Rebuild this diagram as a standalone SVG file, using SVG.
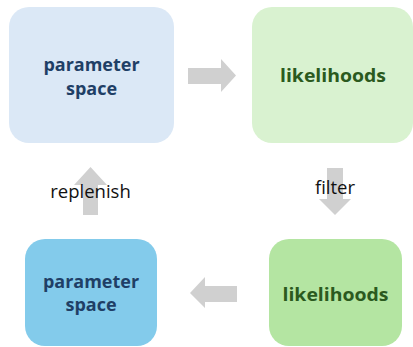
<svg xmlns="http://www.w3.org/2000/svg" width="413" height="347" viewBox="0 0 413 347">
<style>
.node{font-family:"Open Sans","Liberation Sans",sans-serif;font-weight:bold;font-size:18px;text-anchor:middle}
.blue{fill:#1f3f66}
.green{fill:#2b5a1e}
.lbl{font-family:"Open Sans","Liberation Sans",sans-serif;font-size:18.5px;fill:#111;text-anchor:middle}
.arrow{fill:#d0d0d0}
</style>
<rect width="413" height="347" fill="#ffffff"/>
<g id="connectors">
<polygon class="arrow" points="188,68 221,68 221,59 236,75.5 221,92 221,84 188,84"/>
<polygon class="arrow" points="327,168 343,168 343,199 351,199 335,215 319,199 327,199"/>
<polygon class="arrow" points="237,286 205,286 205,277 190,293 205,308 205,302 237,302"/>
<polygon class="arrow" points="83,215 98,215 98,185 107,185 90.5,167 74,185 83,185"/>
<text class="lbl" x="335" y="194">filter</text>
<text class="lbl" x="90.5" y="198">replenish</text>
</g>
<g id="node-param-top">
<rect x="9" y="7" width="165" height="136" rx="20" fill="#dbe8f6"/>
<text class="node blue" x="91.5" y="71">parameter</text>
<text class="node blue" x="91.5" y="95">space</text>
</g>
<g id="node-like-top">
<rect x="252" y="7" width="161" height="136" rx="20" fill="#d9f2d0"/>
<text class="node green" x="333" y="82" textLength="106" lengthAdjust="spacingAndGlyphs">likelihoods</text>
</g>
<g id="node-param-bottom">
<rect x="25" y="239" width="132" height="107" rx="20" fill="#83cbeb"/>
<text class="node blue" x="91" y="288">parameter</text>
<text class="node blue" x="91" y="311">space</text>
</g>
<g id="node-like-bottom">
<rect x="269" y="239" width="133" height="107" rx="20" fill="#b4e5a2"/>
<text class="node green" x="335.5" y="301" textLength="106" lengthAdjust="spacingAndGlyphs">likelihoods</text>
</g>
</svg>
